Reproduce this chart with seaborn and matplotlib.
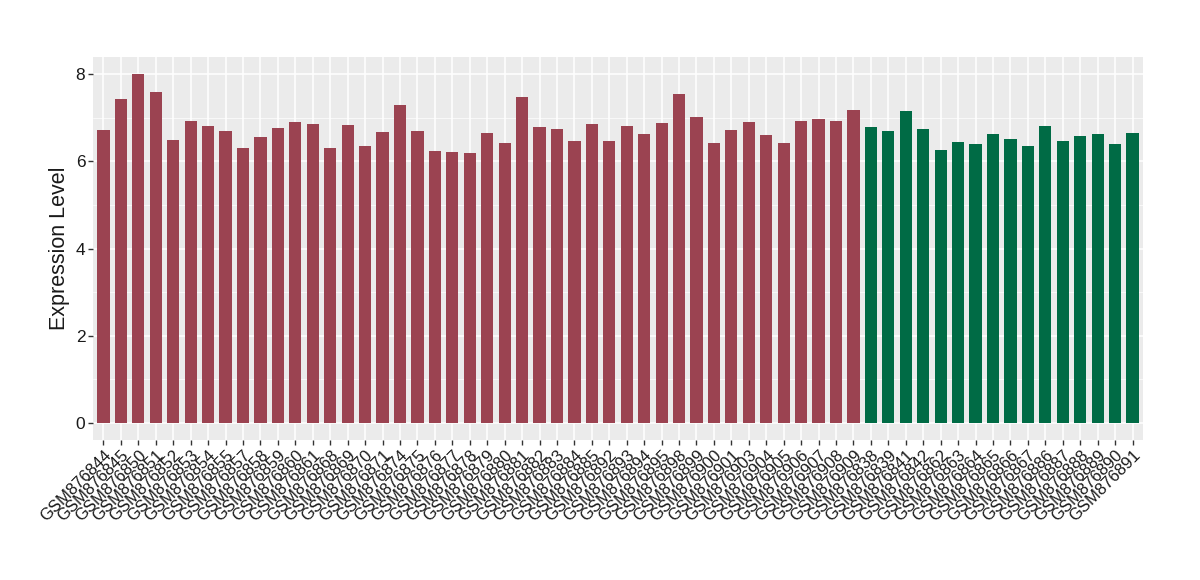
import matplotlib
matplotlib.use("Agg")
import matplotlib.pyplot as plt
import seaborn as sns
import pandas as pd
import numpy as np

red_samples = ["GSM876844","GSM876845","GSM876850","GSM876851","GSM876852","GSM876853","GSM876854","GSM876855",
               "GSM876857","GSM876858","GSM876859","GSM876860","GSM876861","GSM876868","GSM876869","GSM876870",
               "GSM876871","GSM876874","GSM876875","GSM876876","GSM876877","GSM876878","GSM876879","GSM876880",
               "GSM876881","GSM876882","GSM876883","GSM876884","GSM876885","GSM876892","GSM876893","GSM876894",
               "GSM876895","GSM876898","GSM876899","GSM876900","GSM876901","GSM876903","GSM876904","GSM876905",
               "GSM876906","GSM876907","GSM876908","GSM876909"]
red_values = [6.72, 7.43, 8.0, 7.59, 6.5, 6.92, 6.81, 6.7, 6.31, 6.56, 6.78, 6.9, 6.86, 6.31, 6.83, 6.36,
              6.68, 7.29, 6.7, 6.24, 6.22, 6.2, 6.65, 6.42, 7.47, 6.8, 6.75, 6.47, 6.87, 6.47, 6.81, 6.63,
              6.88, 7.55, 7.02, 6.43, 6.72, 6.9, 6.61, 6.43, 6.92, 6.97, 6.92, 7.18]
green_samples = ["GSM876838","GSM876839","GSM876841","GSM876842","GSM876862","GSM876863","GSM876864","GSM876865",
                 "GSM876866","GSM876867","GSM876886","GSM876887","GSM876888","GSM876889","GSM876890","GSM876891"]
green_values = [6.8, 6.7, 7.16, 6.75, 6.27, 6.45, 6.4, 6.63, 6.52, 6.35, 6.81, 6.48, 6.58, 6.63, 6.4, 6.65]

df = pd.DataFrame({
    "sample": red_samples + green_samples,
    "value": red_values + green_values,
    "group": ["A"] * len(red_samples) + ["B"] * len(green_samples),
})

sns.set_style("darkgrid", {"axes.facecolor": "#EBEBEB", "grid.color": "white",
                           "xtick.bottom": True, "ytick.left": True})
plt.rcParams['font.family'] = ['Liberation Sans', 'DejaVu Sans']

fig = plt.figure(figsize=(12, 5.8), dpi=100)
ax = fig.add_axes([0.0775, 0.2414, 0.875, 0.6603])

sns.barplot(data=df, x="sample", y="value", hue="group",
            palette={"A": "#9B4351", "B": "#006B45"}, width=0.7, saturation=1,
            dodge=False, legend=False, ax=ax, zorder=3, linewidth=0, edgecolor="none")

ax.set_xlim(-0.6, len(df) - 0.4)
ax.set_ylim(-0.4, 8.4)
ax.set_yticks([0, 2, 4, 6, 8])
ax.set_yticks([1, 3, 5, 7], minor=True)
ax.grid(True, which="major", color="white", linewidth=1.1, zorder=0)
ax.grid(True, which="minor", axis="y", color="white", linewidth=0.5, zorder=0)
ax.set_axisbelow(True)
for s in ax.spines.values():
    s.set_visible(False)

ax.tick_params(axis="both", which="major", bottom=True, left=True, length=3.5, width=1,
               color="#333333", labelcolor="#1a1a1a")
ax.tick_params(axis="y", which="minor", length=0)
ax.tick_params(axis="y", labelsize=12.5, pad=2)
ax.tick_params(axis="x", labelsize=12, pad=2)
plt.setp(ax.get_xticklabels(), rotation=45, ha="right", va="top", rotation_mode="anchor")

ax.set_xlabel("")
ax.set_ylabel("Expression Level", fontsize=15.5, labelpad=4, color="#1a1a1a")

fig.savefig("out.png", dpi=100)
